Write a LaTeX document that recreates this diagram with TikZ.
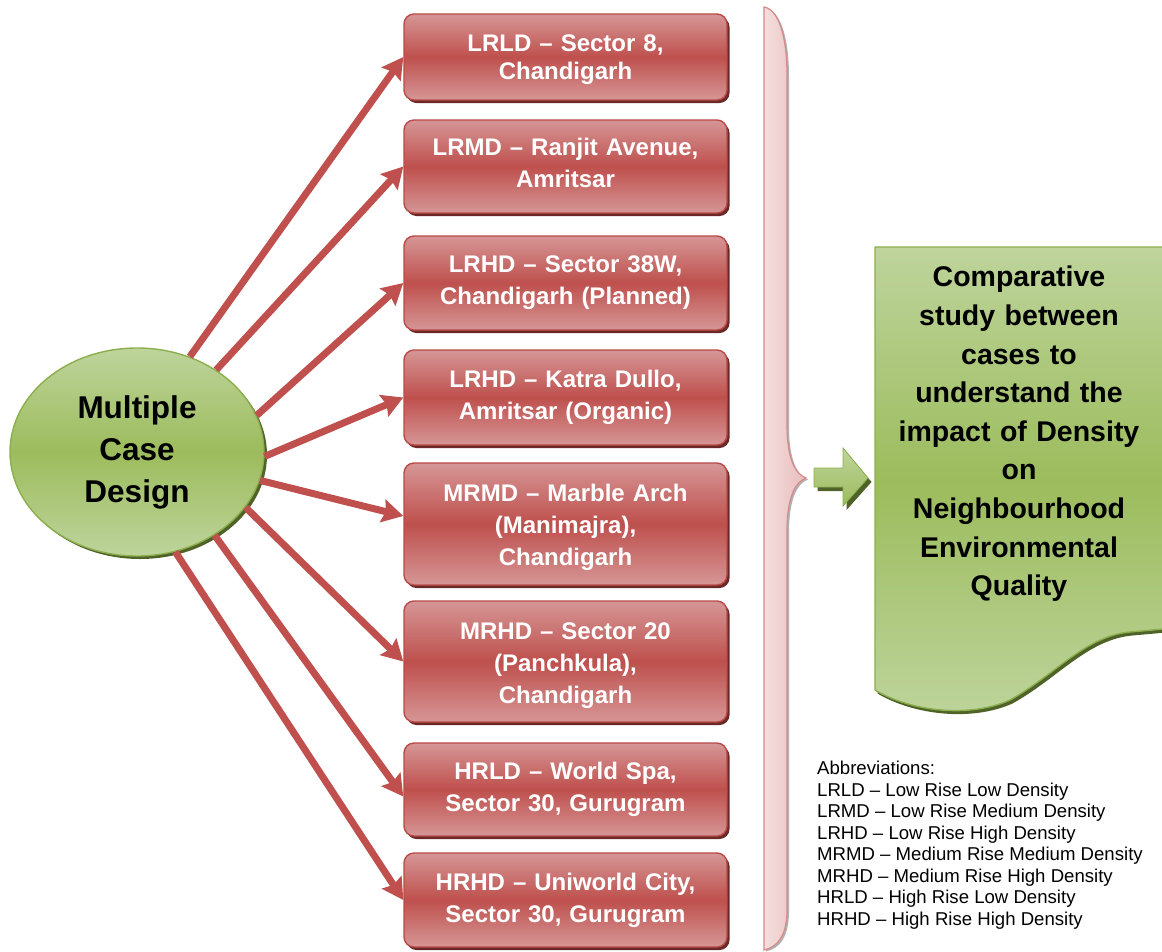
\documentclass[tikz,border=0pt]{standalone}
\usepackage{fontspec}
\setmainfont{Liberation Sans}
\usetikzlibrary{shadows,arrows.meta,shapes.geometric}

\definecolor{boxmid}{HTML}{BE504D}
\definecolor{boxlight}{HTML}{D69696}
\definecolor{boxedge}{HTML}{B94A47}
\definecolor{boxshadow}{HTML}{6A2826}
\definecolor{linkred}{HTML}{C0504D}
\definecolor{ovaltop}{HTML}{BED49C}
\definecolor{ovalmid}{HTML}{9CBC5C}
\definecolor{ovaledge}{HTML}{8CAF4E}
\definecolor{ovalshadow}{HTML}{4F6228}
\definecolor{bracelight}{HTML}{F4DEDD}
\definecolor{bracedark}{HTML}{E7BDBC}
\definecolor{braceedge}{HTML}{D48B8A}

% invisible struts to nudge a box's text up or down
\newcommand{\topstrut}[1]{\rule{0pt}{#1}}
\newcommand{\botstrut}[1]{\rule[-#1]{0pt}{#1}}

\tikzset{
  casebox/.style={rectangle, rounded corners=10pt, draw=boxedge, line width=1.4pt,
    top color=boxlight, bottom color=boxlight, middle color=boxmid,
    minimum width=323pt, text width=305pt, inner sep=0pt, align=center,
    text=white, font=\fontsize{24}{32}\selectfont\bfseries,
    drop shadow={shadow xshift=2.5pt, shadow yshift=-3pt, fill=boxshadow, opacity=1}},
  hub/.style={ellipse, draw=ovaledge, line width=1.4pt,
    top color=ovaltop, bottom color=ovaltop, middle color=ovalmid,
    minimum width=254pt, minimum height=208pt, inner sep=0pt, align=center,
    font=\fontsize{31.5}{42}\selectfont\bfseries,
    drop shadow={shadow xshift=3pt, shadow yshift=-3pt, fill=ovalshadow, opacity=1}},
  link/.style={draw=linkred, line width=7pt,
    -{Stealth[length=21pt, width=23pt, inset=3pt]}},
  outcome/.style={align=center, text width=285pt, inner sep=0pt,
    font=\fontsize{28.5}{38.6}\selectfont\bfseries},
  legend/.style={align=left, inner sep=0pt, anchor=north west,
    font=\fontsize{18.6}{21.5}\selectfont}
}

\begin{document}
\begin{tikzpicture}[x=1pt, y=-1pt]
\useasboundingbox (0,0) rectangle (1162,951);
\clip (0,0) rectangle (1162,951);

% central oval
\node[hub] (hub) at (137,452) {Multiple\\Case\\Design};

% case study boxes
\node[casebox, minimum height=86pt, font=\fontsize{24}{28}\selectfont\bfseries]
                                     (b1) at (565.5,57)   {\topstrut{21.5pt}LRLD – Sector 8,\\Chandigarh};
\node[casebox, minimum height=93pt]  (b2) at (565.5,166.5) {LRMD – Ranjit Avenue,\\Amritsar\botstrut{8pt}};
\node[casebox, minimum height=94pt]  (b3) at (565.5,283)  {LRHD – Sector 38W,\\Chandigarh (Planned)};
\node[casebox, minimum height=95pt]  (b4) at (565.5,397.5) {LRHD – Katra Dullo,\\Amritsar (Organic)};
\node[casebox, minimum height=122pt] (b5) at (565.5,524)  {\topstrut{25pt}MRMD – Marble Arch\\(Manimajra),\\Chandigarh};
\node[casebox, minimum height=121pt] (b6) at (565.5,661.5) {\topstrut{25pt}MRHD – Sector 20\\(Panchkula),\\Chandigarh};
\node[casebox, minimum height=93pt]  (b7) at (565.5,789.5) {HRLD – World Spa,\\Sector 30, Gurugram};
\node[casebox, minimum height=94pt]  (b8) at (565.5,900)  {HRHD – Uniworld City,\\Sector 30, Gurugram};

% connectors from the oval to each case
\draw[link] (hub.61)  -- (b1.west);
\draw[link] (hub.46)  -- (b2.west);
\draw[link] (hub.17)  -- (b3.west);
\draw[link] (hub.-2)  -- (b4.west);
\draw[link] (hub.-13) -- ([yshift=8pt]b5.west);
\draw[link] (hub.-27) -- (b6.west);
\draw[link] (hub.-47) -- ([yshift=-7pt]b7.west);
\draw[link] (hub.-69) -- (b8.west);

% right-hand brace grouping the cases
\path[draw=braceedge, line width=1.2pt, left color=bracelight, right color=bracedark,
      drop shadow={shadow xshift=2pt, shadow yshift=-1.5pt, fill=black, opacity=0.3}]
  (764,7) .. controls (778,9) and (787,35) .. (787,75) -- (787,425)
  .. controls (787,458) and (795,474) .. (806,478)
  .. controls (795,482) and (787,498) .. (787,531) -- (787,910)
  .. controls (787,935) and (778,947) .. (764,950) -- cycle;

% block arrow towards the outcome
\path[top color=ovaltop, bottom color=ovalmid, draw=ovaledge, line width=0.8pt,
      drop shadow={shadow xshift=3.5pt, shadow yshift=-4pt, fill=ovalshadow, opacity=1}]
  (814,468) -- (843,468) -- (843,448) -- (868,478) -- (843,506) -- (843,487) -- (814,487) -- cycle;

% outcome document shape
\path[draw=ovaledge, line width=1.4pt, top color=ovaltop, bottom color=ovaltop, middle color=ovalmid,
      drop shadow={shadow xshift=2.5pt, shadow yshift=-3.5pt, fill=ovalshadow, opacity=1}]
  (875,247) -- (1175,247) -- (1175,628) -- (1130,632)
  .. controls (1085,636) and (1055,675) .. (1010,700)
  .. controls (970,718) and (912,712) .. (875,690) -- cycle;
\node[outcome] (goal) at (1019,434) {Comparative\\study between\\cases to\\understand the\\impact of Density\\on\\Neighbourhood\\Environmental\\Quality};

% legend
\node[legend] (abbr) at (817,761) {Abbreviations:\\
LRLD – Low Rise Low Density\\
LRMD – Low Rise Medium Density\\
LRHD – Low Rise High Density\\
MRMD – Medium Rise Medium Density\\
MRHD – Medium Rise High Density\\
HRLD – High Rise Low Density\\
HRHD – High Rise High Density};
\end{tikzpicture}
\end{document}
